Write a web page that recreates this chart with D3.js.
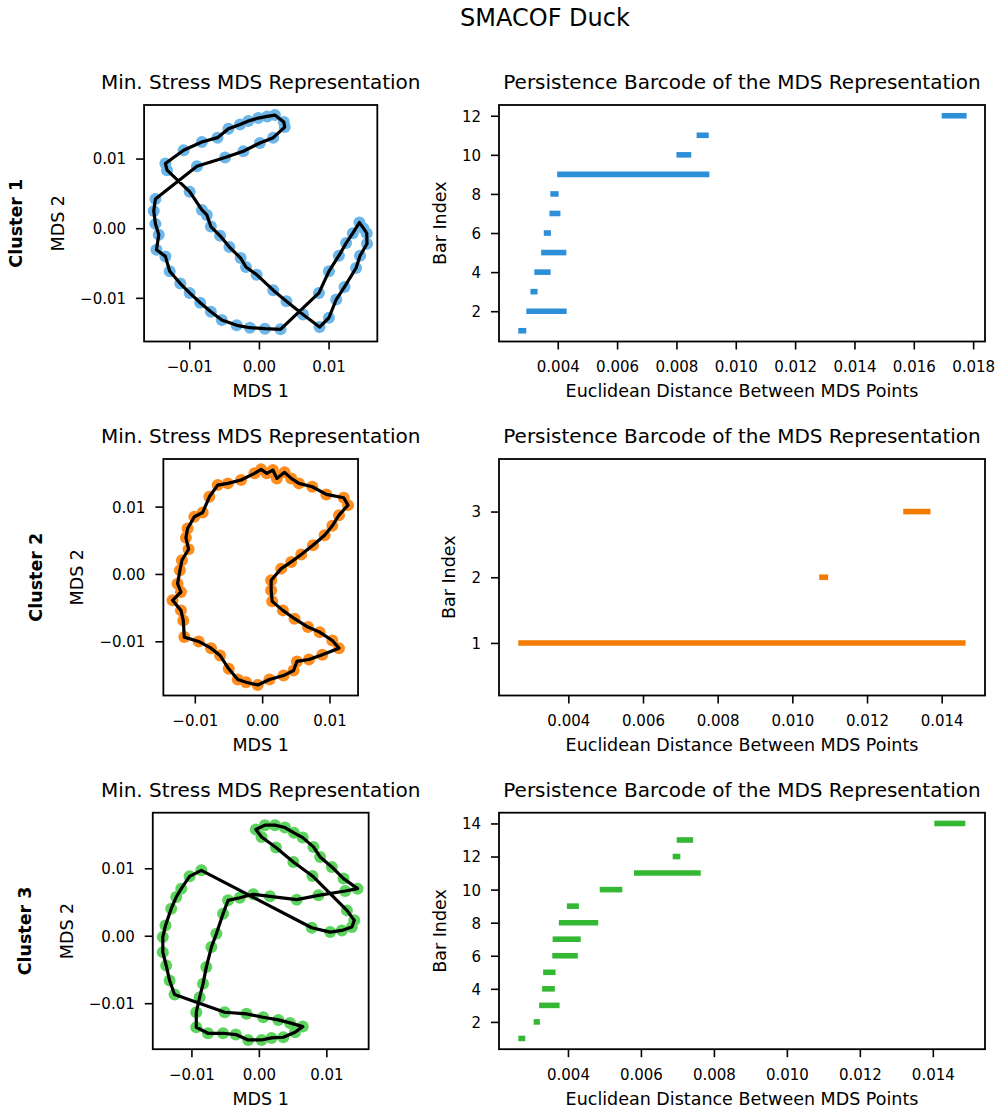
<!DOCTYPE html>
<html>
<head>
<meta charset="utf-8">
<script src="https://cdn.jsdelivr.net/npm/d3@7"></script>
<style>
  body { margin: 0; background: #fff; }
  svg { font-family: "DejaVu Sans", sans-serif; }
</style>
</head>
<body>
<div id="chart"></div>
<script>
// SMACOF Duck: MDS scatter + persistence barcode per cluster

// Cluster 1 MDS points, in path order
const cluster1Points = [
  [-0.01343, 0.00929], [-0.01081, 0.01119], [-0.00819, 0.01238], [-0.00595, 0.01300], [-0.00438, 0.01429],
  [-0.00271, 0.01490], [-0.00152, 0.01538], [-0.00010, 0.01581], [0.00119, 0.01605], [0.00229, 0.01624],
  [0.00357, 0.01524], [0.00371, 0.01452], [0.00205, 0.01300], [0.00014, 0.01224], [-0.00224, 0.01105],
  [-0.00486, 0.01014], [-0.00890, 0.00890], [-0.01486, 0.00419], [-0.01510, 0.00248], [-0.01486, 0.00062],
  [-0.01438, -0.00095], [-0.01471, -0.00310], [-0.01343, -0.00405], [-0.01281, -0.00619], [-0.01129, -0.00795],
  [-0.00995, -0.00929], [-0.00843, -0.01071], [-0.00690, -0.01200], [-0.00533, -0.01319], [-0.00319, -0.01395],
  [-0.00129, -0.01429], [0.00086, -0.01443], [0.00310, -0.01452], [0.00862, -0.00929], [0.01005, -0.00619],
  [0.01148, -0.00395], [0.01252, -0.00214], [0.01348, -0.00071], [0.01443, 0.00081], [0.01500, 0.00000],
  [0.01548, -0.00071], [0.01552, -0.00224], [0.01452, -0.00395], [0.01395, -0.00571], [0.01229, -0.00843],
  [0.01110, -0.01024], [0.01005, -0.01286], [0.00871, -0.01419], [0.00633, -0.01238], [0.00395, -0.01048],
  [0.00205, -0.00890], [-0.00033, -0.00667], [-0.00186, -0.00557], [-0.00262, -0.00429], [-0.00424, -0.00271],
  [-0.00557, -0.00110], [-0.00690, 0.00024], [-0.00748, 0.00190], [-0.00819, 0.00262], [-0.00995, 0.00524],
  [-0.01319, 0.00833]
];

// Cluster 2 MDS points
const cluster2Points = [
  [0.00134, -0.00094], [0.00283, 0.00079], [0.00432, 0.00179], [0.00581, 0.00288], [0.00754, 0.00427],
  [0.00928, 0.00576], [0.01042, 0.00715], [0.01141, 0.00873], [0.01275, 0.01022], [0.01211, 0.01131],
  [0.00953, 0.01181], [0.00744, 0.01295], [0.00546, 0.01345], [0.00432, 0.01419], [0.00333, 0.01509],
  [0.00218, 0.01419], [0.00159, 0.01543], [0.00069, 0.01494], [-0.00015, 0.01553], [-0.00114, 0.01494],
  [-0.00313, 0.01395], [-0.00510, 0.01345], [-0.00660, 0.01320], [-0.00784, 0.01146], [-0.00883, 0.00913],
  [-0.01007, 0.00849], [-0.01107, 0.00675], [-0.01132, 0.00536], [-0.01092, 0.00367], [-0.01191, 0.00203],
  [-0.01221, 0.00055], [-0.01256, -0.00144], [-0.01206, -0.00268], [-0.01330, -0.00392], [-0.01206, -0.00541],
  [-0.01171, -0.00690], [-0.01156, -0.00938], [-0.00943, -0.01002], [-0.00759, -0.01102], [-0.00625, -0.01211],
  [-0.00496, -0.01409], [-0.00362, -0.01568], [-0.00238, -0.01608], [-0.00065, -0.01648], [0.00109, -0.01568],
  [0.00318, -0.01509], [0.00467, -0.01434], [0.00516, -0.01299], [0.00695, -0.01270], [0.00893, -0.01201],
  [0.01141, -0.01102], [0.01042, -0.00988], [0.00854, -0.00864], [0.00680, -0.00789], [0.00481, -0.00665],
  [0.00308, -0.00541], [0.00149, -0.00407], [0.00134, -0.00243]
];

// Cluster 3 MDS points
const cluster3Points = [
  [-0.00045, 0.01574], [0.00089, 0.01639], [0.00238, 0.01639], [0.00387, 0.01604], [0.00521, 0.01525],
  [0.00650, 0.01455], [0.00809, 0.01317], [0.00908, 0.01168], [0.01081, 0.01020], [0.01255, 0.00847],
  [0.01463, 0.00698], [0.01280, 0.00663], [0.00883, 0.00599], [0.00561, 0.00535], [0.00164, 0.00584],
  [-0.00084, 0.00614], [-0.00283, 0.00564], [-0.00456, 0.00525], [-0.00531, 0.00327], [-0.00630, 0.00030],
  [-0.00704, -0.00168], [-0.00779, -0.00465], [-0.00828, -0.00713], [-0.00878, -0.00911], [-0.00928, -0.01134],
  [-0.00928, -0.01356], [-0.00754, -0.01446], [-0.00531, -0.01446], [-0.00342, -0.01465], [-0.00159, -0.01545],
  [0.00040, -0.01545], [0.00188, -0.01515], [0.00362, -0.01505], [0.00536, -0.01431], [0.00650, -0.01347],
  [0.00461, -0.01292], [0.00288, -0.01248], [0.00064, -0.01208], [-0.00184, -0.01158], [-0.00506, -0.01134],
  [-0.01250, -0.00871], [-0.01324, -0.00663], [-0.01374, -0.00441], [-0.01424, -0.00243], [-0.01424, -0.00020],
  [-0.01384, 0.00153], [-0.01300, 0.00401], [-0.01225, 0.00574], [-0.01151, 0.00698], [-0.01027, 0.00881],
  [-0.00853, 0.00970], [0.00784, 0.00119], [0.01057, 0.00054], [0.01230, 0.00079], [0.01379, 0.00129],
  [0.01414, 0.00228], [0.01305, 0.00376], [0.00794, 0.00886], [0.00511, 0.01094], [0.00253, 0.01307],
  [0.00040, 0.01465]
];

// Persistence barcodes (birth / death), bar index = position + 1
const bars1Birth = [0.00267, 0.00294, 0.00308, 0.00321, 0.00344, 0.00353, 0.00372, 0.00375, 0.00398, 0.00800, 0.00868, 0.01694];
const bars1Death = [0.00294, 0.00430, 0.00332, 0.00376, 0.00429, 0.00377, 0.00409, 0.00403, 0.00911, 0.00850, 0.00909, 0.01778];
const bars2Birth = [0.00266, 0.01072, 0.01297];
const bars2Death = [0.01464, 0.01096, 0.01370];
const bars3Birth = [0.00264, 0.00306, 0.00321, 0.00329, 0.00332, 0.00357, 0.00358, 0.00375, 0.00397, 0.00487, 0.00581, 0.00687, 0.00698, 0.01404];
const bars3Death = [0.00283, 0.00323, 0.00377, 0.00364, 0.00366, 0.00427, 0.00435, 0.00483, 0.00430, 0.00549, 0.00764, 0.00708, 0.00743, 0.01489];

// Axis limits and ticks
const mdsXDomains = [[-0.01649, 0.01700], [-0.01467, 0.01424], [-0.01573, 0.01627]];
const mdsYDomains = [[-0.01627, 0.01769], [-0.01805, 0.01707], [-0.01682, 0.01824]];
const mdsTicks = [-0.01, 0, 0.01];
const barXDomains = [[0.00202, 0.01840], [0.002143, 0.01516], [0.00211, 0.01543]];
const barYDomains = [[0.45, 12.55], [0.2, 3.8], [0.35, 14.65]];
const barXTicks = [
  [0.004, 0.006, 0.008, 0.010, 0.012, 0.014, 0.016, 0.018],
  [0.004, 0.006, 0.008, 0.010, 0.012, 0.014],
  [0.004, 0.006, 0.008, 0.010, 0.012, 0.014]
];
const barYTicks = [[2, 4, 6, 8, 10, 12], [1, 2, 3], [2, 4, 6, 8, 10, 12, 14]];

const clusterNames = ['Cluster 1', 'Cluster 2', 'Cluster 3'];
const barColors = ['#2e8fd9', '#f57a00', '#34b834'];
const dotColors = ['#6cb6ea', '#ff8c1f', '#5dd45d'];

const rows = [
  { pts: cluster1Points, birth: bars1Birth, death: bars1Death },
  { pts: cluster2Points, birth: bars2Birth, death: bars2Death },
  { pts: cluster3Points, birth: bars3Birth, death: bars3Death }
];

const W = 996, H = 1110;
const rowTops = [105, 459, 812.7];
const axH = 236.5;
const leftCenter = 260.7;
const barLeft = 499, barW = 486;
const tickFont = 15, labelFont = 17.5, titleFont = 20;

const svg = d3.select('#chart').append('svg')
  .attr('width', W)
  .attr('height', H);

svg.append('text')
  .attr('x', 545)
  .attr('y', 26)
  .attr('text-anchor', 'middle')
  .style('font-size', '24px')
  .text('SMACOF Duck');

function styleAxis(g) {
  g.select('.domain').remove();
  g.selectAll('.tick line').attr('stroke', '#000').attr('stroke-width', 1.6);
  g.selectAll('.tick text').attr('fill', '#000').style('font-size', tickFont + 'px')
    .style('font-family', '"DejaVu Sans", sans-serif');
}

function maxTickWidth(g) {
  let m = 0;
  g.selectAll('.tick text').each(function() { m = Math.max(m, this.getComputedTextLength()); });
  return m;
}

rows.forEach((row, i) => {
  const top = rowTops[i];

  // ---- scatter (equal aspect) ----
  const xDom = mdsXDomains[i], yDom = mdsYDomains[i];
  const k = axH / (yDom[1] - yDom[0]);
  const w = k * (xDom[1] - xDom[0]);
  const left = leftCenter - w / 2;

  const x = d3.scaleLinear().domain(xDom).range([0, w]);
  const y = d3.scaleLinear().domain(yDom).range([axH, 0]);

  const g = svg.append('g').attr('transform', `translate(${left},${top})`);

  g.selectAll('circle')
    .data(row.pts)
    .enter()
    .append('circle')
    .attr('cx', d => x(d[0]))
    .attr('cy', d => y(d[1]))
    .attr('r', 6)
    .attr('fill', dotColors[i]);

  const line = d3.line()
    .x(d => x(d[0]))
    .y(d => y(d[1]))
    .curve(d3.curveLinearClosed);

  g.append('path')
    .attr('d', line(row.pts))
    .attr('fill', 'none')
    .attr('stroke', '#000')
    .attr('stroke-width', 3.2)
    .attr('stroke-linejoin', 'round');

  const fmt = d3.format('.2f');
  const gx = g.append('g')
    .attr('transform', `translate(0,${axH})`)
    .call(d3.axisBottom(x).tickValues(mdsTicks).tickFormat(fmt).tickSize(8).tickPadding(12));
  styleAxis(gx);
  const gy = g.append('g')
    .call(d3.axisLeft(y).tickValues(mdsTicks).tickFormat(fmt).tickSize(8).tickPadding(10));
  styleAxis(gy);
  gy.selectAll('.tick text').attr('dy', '0.36em');

  g.append('rect')
    .attr('width', w).attr('height', axH)
    .attr('fill', 'none').attr('stroke', '#000').attr('stroke-width', 1.8);

  g.append('text')
    .attr('x', w / 2).attr('y', -16)
    .attr('text-anchor', 'middle')
    .style('font-size', titleFont + 'px')
    .text('Min. Stress MDS Representation');

  g.append('text')
    .attr('x', w / 2).attr('y', axH + 55.5)
    .attr('text-anchor', 'middle')
    .style('font-size', labelFont + 'px')
    .text('MDS 1');

  const ylabX = -(18 + maxTickWidth(gy) + 16.2);
  g.append('text')
    .attr('transform', `translate(${ylabX},${axH / 2}) rotate(-90)`)
    .attr('text-anchor', 'middle')
    .style('font-size', labelFont + 'px')
    .text('MDS 2');

  g.append('text')
    .attr('transform', `translate(${ylabX - 41.5},${axH / 2}) rotate(-90)`)
    .attr('text-anchor', 'middle')
    .style('font-size', labelFont + 'px')
    .style('font-weight', 'bold')
    .text(clusterNames[i]);

  // ---- barcode ----
  const bx = d3.scaleLinear().domain(barXDomains[i]).range([0, barW]);
  const by = d3.scaleLinear().domain(barYDomains[i]).range([axH, 0]);
  const gb = svg.append('g').attr('transform', `translate(${barLeft},${top})`);

  gb.selectAll('line.bar')
    .data(row.birth)
    .enter()
    .append('line')
    .attr('class', 'bar')
    .attr('x1', d => bx(d))
    .attr('x2', (d, j) => bx(row.death[j]))
    .attr('y1', (d, j) => by(j + 1))
    .attr('y2', (d, j) => by(j + 1))
    .attr('stroke', barColors[i])
    .attr('stroke-width', 5.6);

  const gbx = gb.append('g')
    .attr('transform', `translate(0,${axH})`)
    .call(d3.axisBottom(bx).tickValues(barXTicks[i]).tickFormat(d3.format('.3f')).tickSize(8).tickPadding(12));
  styleAxis(gbx);
  const gby = gb.append('g')
    .call(d3.axisLeft(by).tickValues(barYTicks[i]).tickFormat(d3.format('d')).tickSize(8).tickPadding(10));
  styleAxis(gby);
  gby.selectAll('.tick text').attr('dy', '0.36em');

  gb.append('rect')
    .attr('width', barW).attr('height', axH)
    .attr('fill', 'none').attr('stroke', '#000').attr('stroke-width', 1.8);

  gb.append('text')
    .attr('x', barW / 2).attr('y', -16)
    .attr('text-anchor', 'middle')
    .style('font-size', titleFont + 'px')
    .text('Persistence Barcode of the MDS Representation');

  gb.append('text')
    .attr('x', barW / 2).attr('y', axH + 55.5)
    .attr('text-anchor', 'middle')
    .style('font-size', labelFont + 'px')
    .text('Euclidean Distance Between MDS Points');

  const bylabX = -(18 + maxTickWidth(gby) + 16.2);
  gb.append('text')
    .attr('transform', `translate(${bylabX},${axH / 2}) rotate(-90)`)
    .attr('text-anchor', 'middle')
    .style('font-size', labelFont + 'px')
    .text('Bar Index');
});
</script>
</body>
</html>
